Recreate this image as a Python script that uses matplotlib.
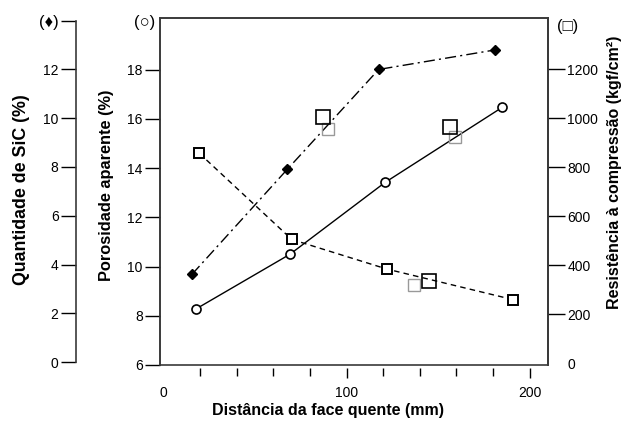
import matplotlib.pyplot as plt

plt.rcParams['font.family'] = ['Liberation Sans', 'DejaVu Sans']
plt.rcParams['font.size'] = 10

# distance from the hot face (mm)
dist_sic = [15.5, 67.5, 117.5, 181]
sic = [3.6, 7.9, 12.0, 12.8]

dist_por = [17.5, 69, 121, 185]
porosidade = [8.27, 10.5, 13.42, 16.47]

dist_res = [19.5, 70, 122, 191]
resistencia = [857, 505, 384, 259]

# loose open squares that sit in the original figure
dist_extra = [87, 156.5, 145]
res_extra = [1006, 966, 335]
dist_extra2 = [90, 159, 137]
res_extra2 = [958, 925, 319]

sic_ticks = [0, 2, 4, 6, 8, 10, 12, 14]
sic_labels = ['0', '2', '4', '6', '8', '10', '12', '(\u2666)']
por_ticks = [6, 8, 10, 12, 14, 16, 18]
res_ticks = [0, 200, 400, 600, 800, 1000, 1200]

W, H = 627, 421
fig = plt.figure(figsize=(W / 100, H / 100), dpi=100)
ax = fig.add_axes([160 / W, 56 / H, 388 / W, 347 / H])

frame = '#3a3a3a'
ax.set_xlim(-2, 210)
ax.set_ylim(6, 20.1)
ax.patch.set_edgecolor(frame)
ax.patch.set_linewidth(1.2)
for s in ['top', 'left', 'right']:
    ax.spines[s].set_color(frame)
    ax.spines[s].set_linewidth(1.2)
ax.spines['bottom'].set_visible(False)
ax.spines['bottom'].set_position(('outward', 2))

ax.set_xticks([0, 100, 200])
ax.set_xticks([20, 40, 60, 80, 120, 140, 160, 180], minor=True)
ax.tick_params(axis='x', which='major', direction='out', length=7, width=1, pad=6, labelsize=10)
ax.tick_params(axis='x', which='minor', direction='out', length=6, width=1)
ax.xaxis.get_major_ticks()[0].tick1line.set_visible(False)

ax.set_yticks(por_ticks)
ax.tick_params(axis='y', direction='out', length=11, width=1, pad=1.5, labelsize=10)
ax.yaxis.get_major_ticks()[0].tick1line.set_visible(False)

ax.plot(dist_por, porosidade, color='black', lw=1.0, marker='o', ms=6.5,
        mfc='white', mec='black', mew=1.2, zorder=3)

# SiC axis, detached on the far left
ax_sic = ax.twinx()
ax_sic.set_ylim(-0.12, 14.11)
ax_sic.yaxis.tick_left()
for s in ['top', 'right', 'bottom']:
    ax_sic.spines[s].set_visible(False)
ax_sic.spines['left'].set_position(('outward', 60.5))
ax_sic.spines['left'].set_bounds(0, 14)
ax_sic.spines['left'].set_color(frame)
ax_sic.spines['left'].set_linewidth(1.2)
ax_sic.set_yticks(sic_ticks)
ax_sic.set_yticklabels(sic_labels)
ax_sic.tick_params(axis='y', direction='out', length=11, width=1, pad=1.5, labelsize=10)
ax_sic.get_yticklabels()[-1].set_fontsize(12)
ax_sic.plot(dist_sic, sic, color='black', lw=1.0, ls=(0, (8, 3, 1.5, 3)),
            marker='D', ms=5.5, mfc='black', mec='black', zorder=3)

# compressive strength axis on the right
ax_r = ax.twinx()
ax_r.set_ylim(-8, 1410)
for s in ['top', 'left', 'bottom']:
    ax_r.spines[s].set_visible(False)
ax_r.spines['right'].set_color(frame)
ax_r.spines['right'].set_linewidth(1.2)
ax_r.set_yticks(res_ticks)
ax_r.tick_params(axis='y', direction='out', length=12, width=1, pad=2, labelsize=10)
ax_r.yaxis.get_major_ticks()[0].tick2line.set_visible(False)
ax_r.plot(dist_res, resistencia, color='black', lw=1.0, ls=(0, (4, 3)),
          marker='s', ms=6.5, mfc='white', mec='black', mew=1.4, zorder=3)
ax_r.plot(dist_extra2, res_extra2, ls='none', marker='s', ms=9,
          mfc='none', mec='#999999', mew=1.0)
ax_r.plot(dist_extra, res_extra, ls='none', marker='s', ms=10,
          mfc='none', mec='black', mew=1.2)

# series symbols at the top of the axes
fig.text(145 / W, 1 - 22 / H, '(\u25cb)', ha='center', va='center', fontsize=12)
fig.text(568 / W, 1 - 26 / H, '(\u25a1)', ha='center', va='center', fontsize=12)

lab = dict(fontweight='bold', ha='center', va='center')
fig.text(22 / W, 1 - 190 / H, 'Quantidade de SiC (%)', rotation=90, fontsize=12.8, **lab)
fig.text(107 / W, 1 - 185 / H, 'Porosidade aparente (%)', rotation=90, fontsize=11.8, **lab)
fig.text(615 / W, 1 - 172 / H, 'Resistência à compressão (kgf/cm²)', rotation=90, fontsize=11.5, **lab)
fig.text(328 / W, 1 - 410 / H, 'Distância da face quente (mm)', fontsize=11.5, **lab)

fig.savefig('out.png', dpi=100)
